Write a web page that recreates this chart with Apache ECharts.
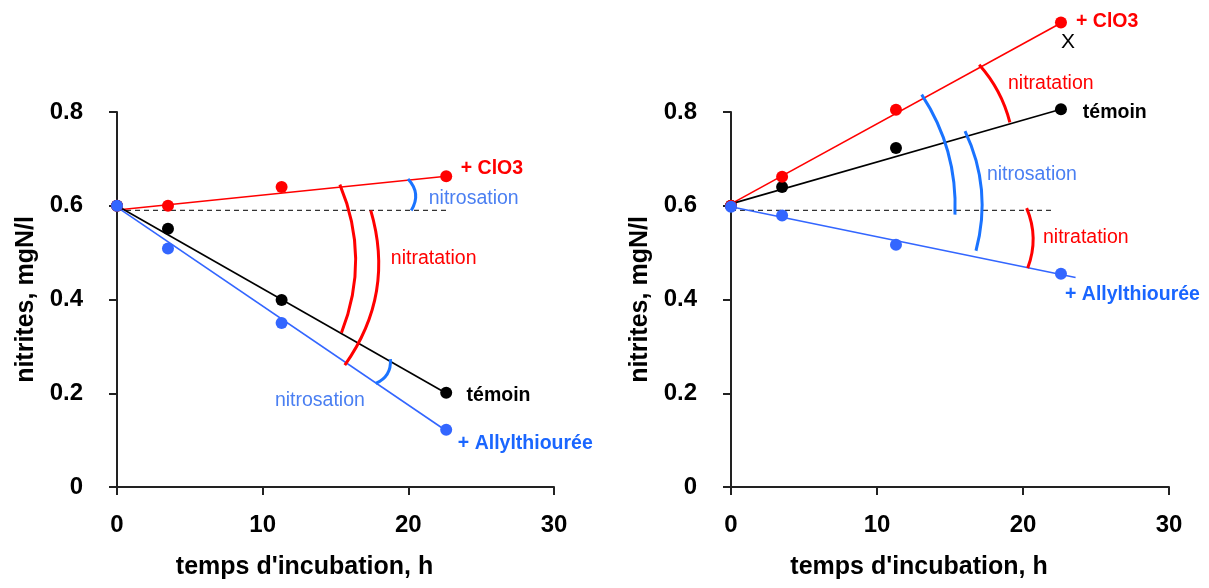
<!DOCTYPE html>
<html>
<head>
<meta charset="utf-8">
<script src="https://cdn.jsdelivr.net/npm/echarts@6.0.0/dist/echarts.min.js"></script>
<style>
  html, body { margin: 0; padding: 0; background: #fff; }
  #chart { width: 1209px; height: 588px; }
</style>
</head>
<body>
<div id="chart"></div>
<script>
// temps d'incubation (h) des prélèvements
const hours = [0, 3.5, 11.3, 22.6]
const xTicks = [0, 10, 20, 30]
const yTicks = [0, 0.2, 0.4, 0.6, 0.8]

// panneau gauche (nitrites, mgN/l)
const leftClo3 = [0.6, 0.6, 0.64, 0.663]
const leftTemoin = [0.6, 0.551, 0.399, 0.201]
const leftAllyl = [0.6, 0.509, 0.35, 0.122]
// droites d'ajustement [x, y] début / fin
const leftFitClo3 = [[0, 0.591], [22.6, 0.663]]
const leftFitTemoin = [[0, 0.6], [22.6, 0.2]]
const leftFitAllyl = [[0, 0.597], [22.6, 0.12]]
const leftBase = [[0, 0.59], [22.8, 0.59]]

// panneau droit
const rightClo3 = [0.6, 0.662, 0.805, 0.991]
const rightTemoin = [0.6, 0.64, 0.723, 0.806]
const rightAllyl = [0.598, 0.579, 0.517, 0.455]
const rightFitClo3 = [[0, 0.604], [22.6, 0.99]]
const rightFitTemoin = [[0, 0.604], [22.6, 0.806]]
const rightFitAllyl = [[0, 0.598], [23.6, 0.447]]
const rightBase = [[0, 0.59], [22.1, 0.59]]

const RED = '#ff0000'
const BLACK = '#000000'
const BLUE = '#3366ff'
const ARC_BLUE = '#1a73ff'
const TXT_BLUE = '#4a7ff2'
const FONT = '"Liberation Sans", Arial, sans-serif'

// arcs: grille, point de départ, point d'arrivée (données), courbure px, couleur
const arcs = [
  [0, [19.98, 0.657], [20.2, 0.59], 6, ARC_BLUE],
  [0, [15.3, 0.645], [15.41, 0.329], 15, RED],
  [0, [17.42, 0.59], [15.64, 0.26], 19, RED],
  [0, [18.77, 0.273], [17.76, 0.221], 5, ARC_BLUE],
  [1, [17.0, 0.901], [19.1, 0.778], 4, RED],
  [1, [13.06, 0.837], [15.34, 0.581], 10, ARC_BLUE],
  [1, [16.03, 0.759], [16.78, 0.504], 11, ARC_BLUE],
  [1, [20.25, 0.595], [20.32, 0.467], 6, RED]
]

// textes: grille, position (données), texte, couleur, gras
const notes = [
  [0, [23.6, 0.679], '+ ClO3', RED, true],
  [0, [21.4, 0.615], 'nitrosation', TXT_BLUE, false],
  [0, [18.8, 0.487], 'nitratation', RED, false],
  [0, [24.0, 0.194], 'témoin', BLACK, true],
  [0, [10.84, 0.184], 'nitrosation', TXT_BLUE, false],
  [0, [23.4, 0.092], '+ Allylthiourée', '#1a66ff', true],
  [1, [23.63, 0.993], '+ ClO3', RED, true],
  [1, [22.6, 0.948], 'X', BLACK, false],
  [1, [18.97, 0.86], 'nitratation', RED, false],
  [1, [24.1, 0.798], 'témoin', BLACK, true],
  [1, [17.53, 0.666], 'nitrosation', TXT_BLUE, false],
  [1, [21.37, 0.532], 'nitratation', RED, false],
  [1, [22.88, 0.41], '+ Allylthiourée', '#1a66ff', true]
]

const pairs = vals => hours.map((h, i) => [h, vals[i]])

function axisX(gi) {
  return {
    type: 'value', gridIndex: gi,
    min: xTicks[0], max: xTicks[xTicks.length - 1], interval: xTicks[1] - xTicks[0],
    name: "temps d'incubation, h", nameLocation: 'middle', nameGap: 68,
    nameTextStyle: { fontFamily: FONT, fontSize: 25, fontWeight: 'bold', color: '#000', padding: [0, 62, 0, 0] },
    axisLine: { onZero: false, lineStyle: { color: '#222', width: 2 } },
    axisTick: { show: true, inside: false, length: 8, lineStyle: { color: '#222', width: 2 } },
    axisLabel: { margin: 26, fontFamily: FONT, fontSize: 24, fontWeight: 'bold', color: '#000' },
    splitLine: { show: false }
  }
}

function axisY(gi) {
  return {
    type: 'value', gridIndex: gi,
    min: yTicks[0], max: yTicks[yTicks.length - 1], interval: yTicks[1] - yTicks[0],
    name: 'nitrites, mgN/l', nameLocation: 'middle', nameGap: 78,
    nameTextStyle: { fontFamily: FONT, fontSize: 25, fontWeight: 'bold', color: '#000' },
    axisLine: { show: true, onZero: false, lineStyle: { color: '#222', width: 2 } },
    axisTick: { show: true, inside: false, length: 8, lineStyle: { color: '#222', width: 2 } },
    axisLabel: { margin: 34, fontFamily: FONT, fontSize: 24, fontWeight: 'bold', color: '#000' },
    splitLine: { show: false }
  }
}

function dots(gi, vals, color, z) {
  return {
    type: 'scatter', xAxisIndex: gi, yAxisIndex: gi, data: pairs(vals),
    symbolSize: 12, itemStyle: { color: color, opacity: 1 }, clip: false, z: z, silent: true
  }
}

function fit(gi, pts, color, dashed) {
  return {
    type: 'line', xAxisIndex: gi, yAxisIndex: gi, data: pts,
    showSymbol: false, clip: false, silent: true,
    lineStyle: { color: color, width: dashed ? 1.2 : 1.6, type: dashed ? [5, 4] : 'solid' }
  }
}

const chart = echarts.init(document.getElementById('chart'))

chart.setOption({
  animation: false,
  backgroundColor: '#fff',
  grid: [
    { left: 117, top: 112, width: 437, height: 375 },
    { left: 731, top: 112, width: 438, height: 375 }
  ],
  xAxis: [axisX(0), axisX(1)],
  yAxis: [axisY(0), axisY(1)],
  series: [
    fit(0, leftBase, '#333', true),
    fit(0, leftFitClo3, RED),
    fit(0, leftFitTemoin, BLACK),
    fit(0, leftFitAllyl, BLUE),
    dots(0, leftTemoin, BLACK, 3),
    dots(0, leftClo3, RED, 4),
    dots(0, leftAllyl, BLUE, 5),
    fit(1, rightBase, '#333', true),
    fit(1, rightFitClo3, RED),
    fit(1, rightFitTemoin, BLACK),
    fit(1, rightFitAllyl, BLUE),
    dots(1, rightTemoin, BLACK, 3),
    dots(1, rightClo3, RED, 4),
    dots(1, rightAllyl, BLUE, 5)
  ]
})

// arcs et textes placés à partir des coordonnées des axes
const graphics = []
arcs.forEach(([gi, a, b, bulge, color]) => {
  const p0 = chart.convertToPixel({ gridIndex: gi }, a)
  const p2 = chart.convertToPixel({ gridIndex: gi }, b)
  const dx = p2[0] - p0[0], dy = p2[1] - p0[1]
  const len = Math.sqrt(dx * dx + dy * dy)
  const nx = dy / len, ny = -dx / len
  const mx = (p0[0] + p2[0]) / 2, my = (p0[1] + p2[1]) / 2
  graphics.push({
    type: 'bezierCurve', silent: true, z: 10,
    shape: { x1: p0[0], y1: p0[1], x2: p2[0], y2: p2[1], cpx1: mx + 2 * bulge * nx, cpy1: my + 2 * bulge * ny },
    style: { stroke: color, lineWidth: 3, fill: null }
  })
})
notes.forEach(([gi, pos, text, color, bold]) => {
  const p = chart.convertToPixel({ gridIndex: gi }, pos)
  graphics.push({
    type: 'text', silent: true, z: 10, x: p[0], y: p[1],
    style: {
      text: text, fill: color, align: 'left', verticalAlign: 'middle',
      fontFamily: FONT, fontSize: text === 'X' ? 21 : 19.5, fontWeight: bold ? 'bold' : 'normal'
    }
  })
})
chart.setOption({ graphic: graphics })
</script>
</body>
</html>
